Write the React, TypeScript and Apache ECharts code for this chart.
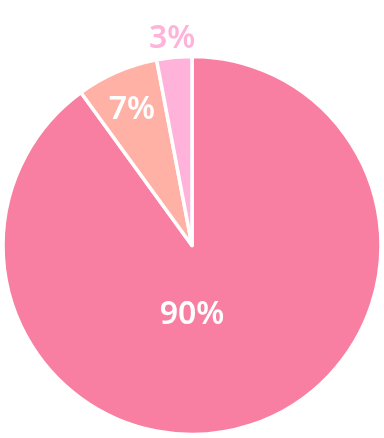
import React, { useEffect, useRef } from "react";
import * as echarts from "echarts";

const categories = ["A", "B", "C"];
const values = [90, 7, 3];
const colors = ["#F87FA1", "#FFB1A6", "#FFB3DA"];
const labelColors = ["#FFFFFF", "#FFFFFF", "#FFB3DA"];
// label radial position as fraction of radius
const labelRadiusFrac = [0.35, 0.8, 1.115];

export default function App() {
  const ref = useRef<HTMLDivElement>(null);
  useEffect(() => {
    if (!ref.current) return;
    const chart = echarts.init(ref.current, null, { renderer: "svg" });
    const cx = 192;
    const cy = 245.5;
    const r = 189;
    const total = values.reduce((a, b) => a + b, 0);
    const startAngle = 90;
    const midAngles: number[] = [];
    let acc = 0;
    values.forEach((v) => {
      const a0 = startAngle - (acc / total) * 360;
      acc += v;
      const a1 = startAngle - (acc / total) * 360;
      midAngles.push((a0 + a1) / 2);
    });
    chart.setOption({
      animation: false,
      series: [
        {
          type: "pie",
          center: [cx, cy],
          radius: [0, r],
          startAngle,
          clockwise: true,
          itemStyle: { borderColor: "#ffffff", borderWidth: 3.5 },
          label: {
            show: true,
            position: "inside",
            formatter: "{c}%",
            fontFamily: "Noto Sans",
            fontWeight: 600,
            fontSize: 32,
          },
          labelLine: { show: false },
          labelLayout: (params: any) => {
            const i = params.dataIndex;
            let x: number;
            let y: number;
            if (i === 0) {
              x = cx;
              y = cy + labelRadiusFrac[0] * r;
            } else {
              const ang = (midAngles[i] * Math.PI) / 180;
              x = cx + Math.cos(ang) * labelRadiusFrac[i] * r;
              y = cy - Math.sin(ang) * labelRadiusFrac[i] * r;
            }
            return { x, y, align: "center", verticalAlign: "middle" };
          },
          data: values.map((v, i) => ({
            name: categories[i],
            value: v,
            itemStyle: { color: colors[i] },
            label: { color: labelColors[i] },
          })),
        },
      ],
    });
    return () => chart.dispose();
  }, []);
  return (
    <div
      ref={ref}
      style={{ position: "fixed", left: 0, top: 0, width: 384, height: 438 }}
    />
  );
}
